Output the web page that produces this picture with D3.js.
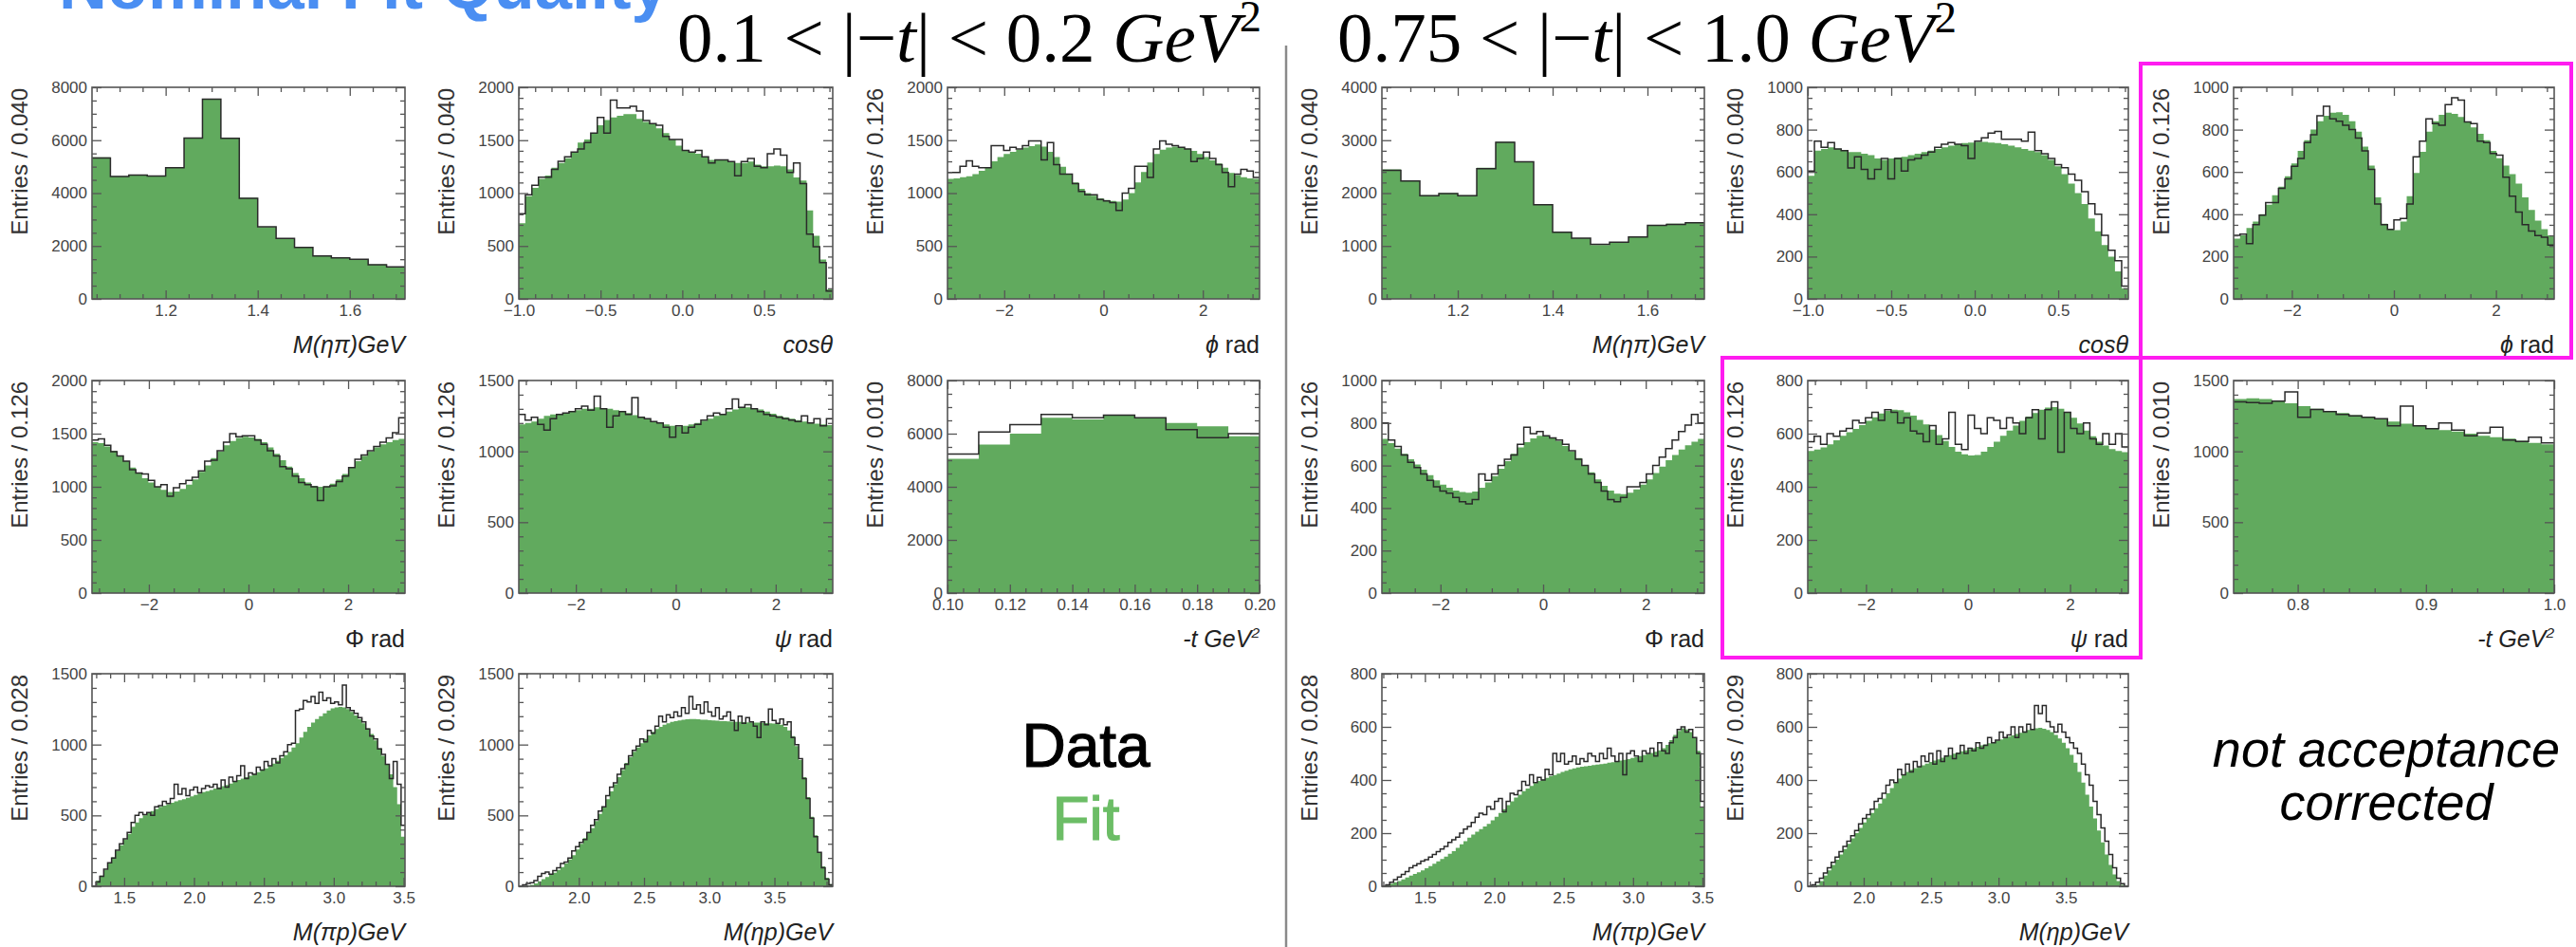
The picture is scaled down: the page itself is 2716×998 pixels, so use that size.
<!DOCTYPE html>
<html><head><meta charset="utf-8">
<script src="https://cdn.jsdelivr.net/npm/d3@7"></script>
<style>body{margin:0;background:#fff;}svg{display:block}</style>
</head><body>
<script>
// ================= DATA =================
// M(eta pi), 17 bins of 0.040 from 1.04
const mEtaPiLoFit  = [5350,4640,4670,4660,4980,6090,7540,6090,3820,2720,2300,1960,1610,1560,1490,1300,1220];
const mEtaPiLoData = [5330,4630,4680,4650,4960,6080,7550,6070,3800,2730,2290,1950,1620,1550,1500,1290,1210];
const mEtaPiHiFit  = [2450,2240,1960,2000,1960,2480,2970,2600,1790,1270,1150,1020,1075,1180,1400,1420,1445];
const mEtaPiHiData = [2430,2230,1950,1990,1950,2460,2960,2590,1780,1260,1150,1030,1070,1170,1390,1410,1440];
// cos theta, 48 bins of 0.040 from -1.0
const cosThLoFit  = [715,970,1050,1135,1165,1240,1285,1330,1390,1478,1507,1567,1642,1690,1716,1731,1746,1746,1701,1672,1657,1612,1567,1507,1448,1403,1388,1373,1343,1313,1313,1313,1298,1284,1284,1298,1269,1254,1254,1260,1254,1224,1149,1119,836,597,373,90];
const cosThLoData = [805,985,1075,1150,1150,1225,1300,1343,1388,1418,1478,1567,1716,1567,1880,1806,1806,1820,1776,1686,1657,1642,1537,1507,1507,1403,1388,1403,1343,1284,1313,1313,1298,1164,1298,1328,1254,1239,1373,1418,1358,1194,1284,1090,612,493,343,75];
const cosThHiFit  = [582,701,709,716,710,701,694,694,686,679,664,657,664,668,672,679,686,694,701,709,716,724,731,736,739,742,742,739,736,731,724,716,709,701,694,679,657,627,590,545,500,448,380,320,255,200,130,50];
const cosThHiData = [604,746,716,739,709,701,619,672,612,567,612,664,567,664,604,657,664,679,694,716,731,739,731,724,664,746,761,784,791,754,754,754,746,788,701,686,664,634,620,590,560,507,450,400,300,230,180,60];
// phi (rad), 50 bins of 2pi/50 from -pi
const phiLoFit  = [1134,1140,1150,1160,1180,1210,1240,1300,1340,1370,1390,1410,1430,1445,1460,1440,1390,1340,1250,1180,1100,1040,1000,975,950,935,925,920,940,1000,1100,1200,1290,1370,1410,1430,1440,1435,1420,1400,1370,1340,1310,1280,1240,1190,1170,1150,1140,1134];
const phiLoData = [1194,1194,1254,1304,1254,1239,1239,1448,1448,1403,1433,1418,1448,1493,1493,1313,1478,1269,1179,1179,1090,1015,985,985,940,925,910,836,1000,1045,1254,1254,1149,1418,1493,1463,1448,1433,1418,1298,1328,1388,1328,1269,1194,1060,1179,1224,1209,1149];
const phiHiFit  = [285,300,335,365,400,445,490,530,580,640,700,750,800,840,866,880,882,870,840,790,720,630,480,355,328,325,365,485,595,695,790,840,870,880,875,860,835,810,780,750,700,665,630,590,545,480,420,370,330,300];
const phiHiData = [300,306,261,351,396,455,455,522,567,627,664,739,776,866,910,851,840,821,800,760,700,612,448,351,328,373,380,448,672,746,851,828,821,918,951,940,836,828,746,739,687,679,575,485,410,351,321,299,291,254];
// Phi (rad), 50 bins
const bigPhiLoFit  = [1420,1410,1380,1340,1290,1240,1180,1130,1080,1040,1000,970,950,955,980,1020,1070,1140,1200,1270,1330,1390,1430,1460,1470,1465,1450,1420,1370,1310,1250,1190,1130,1080,1040,1010,1000,1005,1030,1070,1120,1180,1240,1290,1330,1370,1400,1420,1440,1450];
const bigPhiLoData = [1440,1450,1390,1330,1290,1240,1160,1130,1120,1060,1000,1020,910,990,1030,1060,1090,1150,1240,1250,1340,1420,1500,1470,1480,1480,1440,1400,1340,1290,1190,1170,1100,1040,1020,1000,870,1000,1010,1050,1100,1180,1260,1300,1340,1380,1420,1460,1510,1650];
const bigPhiHiFit  = [725,705,680,655,630,605,580,555,530,510,495,482,475,472,478,495,520,550,585,620,655,685,710,728,740,740,732,715,692,665,635,600,568,535,505,482,468,465,472,488,510,535,565,595,625,650,675,695,712,725];
const bigPhiHiData = [800,720,690,650,615,590,560,530,500,480,470,450,430,420,440,560,530,560,600,630,650,700,780,750,760,740,730,720,700,670,630,600,560,520,480,440,430,450,500,500,520,560,600,640,680,720,760,790,840,800];
// psi (rad), 50 bins
const psiLoFit  = [1190,1200,1210,1230,1250,1260,1265,1270,1280,1290,1300,1300,1310,1305,1300,1290,1280,1270,1255,1240,1225,1210,1200,1190,1180,1175,1180,1190,1200,1215,1230,1250,1265,1280,1295,1305,1310,1305,1295,1280,1265,1250,1240,1230,1220,1210,1200,1195,1190,1185];
const psiLoData = [1260,1220,1240,1190,1150,1230,1260,1270,1280,1300,1320,1290,1390,1300,1170,1250,1280,1260,1380,1240,1230,1210,1200,1170,1100,1180,1130,1170,1190,1220,1250,1270,1260,1300,1370,1310,1330,1300,1280,1260,1250,1240,1230,1220,1210,1250,1200,1230,1180,1230];
const psiHiFit  = [535,540,548,560,575,592,605,618,632,648,662,676,686,690,688,680,668,652,635,615,595,572,550,532,522,518,520,532,550,570,592,612,630,648,664,678,690,698,700,694,680,660,638,612,590,570,555,542,535,530];
const psiHiData = [570,590,560,600,590,610,620,650,640,660,680,650,690,680,640,660,610,600,570,630,560,580,680,560,540,670,620,600,660,650,620,660,640,600,660,690,580,690,720,530,680,620,600,640,580,560,600,560,600,550];
// -t, bins of 0.010
const tLoFit  = [5050,5590,6000,6600,6540,6690,6600,6400,6280,5900];
const tLoData = [5230,6060,6340,6720,6600,6700,6600,6150,5850,6000];
const tHiFit  = [1370,1375,1370,1360,1340,1320,1300,1285,1270,1255,1240,1225,1210,1195,1180,1165,1150,1140,1125,1110,1100,1090,1075,1060,1050];
const tHiData = [1350,1345,1340,1355,1420,1240,1295,1280,1260,1250,1240,1230,1180,1320,1180,1160,1200,1150,1110,1130,1170,1080,1070,1100,1060];
// M(pi p), bins of 0.028
const mPiPLoFit  = [5,40,75,115,160,205,250,290,330,370,420,450,480,500,515,530,545,560,570,580,590,600,608,615,625,635,645,655,665,672,680,690,698,706,715,725,738,750,760,770,780,792,805,818,832,848,865,885,905,925,950,980,1010,1050,1090,1125,1155,1180,1200,1220,1240,1255,1262,1265,1262,1250,1230,1205,1180,1150,1115,1075,1030,975,920,860,790,700,580,350];
const mPiPLoData = [0,30,70,120,165,200,255,300,335,380,450,500,520,505,520,500,560,570,600,585,620,720,650,690,640,680,700,660,690,710,700,720,690,750,700,770,740,780,850,760,800,790,840,820,880,850,900,870,920,950,1000,1010,1240,1250,1310,1300,1340,1290,1370,1310,1330,1290,1300,1280,1420,1260,1240,1220,1190,1160,1110,1060,1040,970,930,860,760,880,720,430];
const mPiPHiFit  = [0,5,10,15,20,26,33,40,46,53,60,68,76,85,94,103,112,122,132,145,158,170,183,195,205,215,225,235,248,262,276,290,305,320,334,345,358,368,378,388,396,402,408,414,419,424,430,435,440,444,447,450,452,454,456,458,460,462,465,467,470,473,476,479,483,486,490,494,498,502,506,512,520,532,550,570,585,595,590,580,560,510,300];
const mPiPHiData = [0,5,15,25,35,45,55,70,78,85,95,100,110,120,130,140,150,165,175,185,200,215,225,240,260,275,270,300,290,320,330,280,320,350,345,360,395,380,420,390,410,400,440,420,500,470,500,460,470,490,460,480,470,500,490,470,500,480,520,490,470,500,420,500,510,490,470,510,500,520,490,540,510,500,540,560,590,600,580,590,560,500,320];
// M(eta p), bins of 0.029
const mEtaPLoFit  = [0,0,5,10,20,35,50,65,80,95,115,135,160,190,220,260,300,340,375,410,460,510,560,615,670,720,770,820,870,910,950,980,1010,1040,1065,1090,1110,1125,1140,1150,1160,1165,1170,1175,1178,1180,1180,1178,1176,1175,1172,1170,1168,1165,1165,1163,1162,1160,1160,1158,1157,1156,1155,1155,1153,1152,1150,1148,1145,1140,1125,1100,1060,990,890,770,630,490,360,240,140,60,15];
const mEtaPLoData = [0,10,20,25,40,70,90,100,85,110,130,160,170,200,250,280,310,330,380,430,470,530,560,640,700,730,790,830,860,920,960,990,1040,1020,1100,1080,1130,1200,1160,1210,1190,1230,1200,1260,1220,1340,1250,1280,1220,1300,1230,1200,1260,1180,1200,1230,1170,1100,1200,1150,1190,1160,1130,1050,1160,1140,1250,1170,1150,1180,1140,1160,1050,1000,900,760,620,480,350,240,130,50,10];
const mEtaPHiFit  = [0,0,5,20,40,60,80,100,120,140,160,180,200,220,240,258,276,294,312,330,350,370,388,405,420,430,438,445,450,455,462,468,473,478,484,489,494,499,504,508,512,516,520,525,530,534,538,543,548,553,558,563,568,573,578,583,588,592,595,596,593,588,580,570,556,540,520,495,465,430,390,345,300,255,210,165,120,80,45,20,5,0];
const mEtaPHiData = [0,5,15,30,50,70,90,110,130,150,170,190,210,235,255,270,290,320,330,350,380,400,390,440,420,460,430,470,450,490,470,500,460,510,470,490,520,480,500,530,500,520,510,540,520,530,560,540,550,580,560,570,600,560,600,580,610,590,680,650,680,620,600,580,610,580,560,540,520,500,460,420,380,320,270,220,170,120,70,30,10,0];

// tick values
const ticksMEtaPi = [1.2,1.4,1.6];
const ticksCos    = [-1.0,-0.5,0.0,0.5];
const ticksAngle  = [-2,0,2];
const ticksTLo    = [0.10,0.12,0.14,0.16,0.18,0.20];
const ticksTHi    = [0.8,0.9,1.0];
const ticksMPiP   = [1.5,2.0,2.5,3.0,3.5];
const ticksMEtaP  = [2.0,2.5,3.0,3.5];

// ================= DRAW =================
const GREEN = "#61aa5e";
const SANS = "'Liberation Sans', Arial, Helvetica, sans-serif";
const SERIF = "'Liberation Serif', 'Times New Roman', serif";
const svg = d3.select("body").append("svg").attr("width",2716).attr("height",998)
  .style("font-family",SANS);
const defs = svg.append("defs");

const colX = [[97,427],[547,878],[999,1328],[1457,1797],[1906,2244],[2355,2693]];
const rowY = [[92,315],[401,625],[710,934]];
const PI = Math.PI, AB = 2*Math.PI/50;

const f1 = d3.format(".1f"), f2 = d3.format(".2f"), fd = d3.format("d");
const T_M_EP = [{t:"M(ηπ)GeV",i:1}], T_COS=[{t:"cosθ",i:1}], T_PHI=[{t:"ϕ",i:1},{t:" rad"}],
      T_BPHI=[{t:"Φ rad"}], T_PSI=[{t:"ψ",i:1},{t:" rad"}], T_T=[{t:"-t GeV",i:1},{t:"2",i:1,sup:1}],
      T_MPP=[{t:"M(πp)GeV",i:1}], T_MEP=[{t:"M(ηp)GeV",i:1}];

const panels = [
 {c:0,r:0,lo:1.04,bw:0.04,fit:mEtaPiLoFit,data:mEtaPiLoData,yMax:8000,yStep:2000,xt:ticksMEtaPi,fmt:f1,xs:0.2,yTitle:"Entries / 0.040",xTitle:T_M_EP},
 {c:1,r:0,lo:-1.0,bw:0.04,fit:cosThLoFit,data:cosThLoData,yMax:2000,yStep:500,xt:ticksCos,fmt:f1,xs:0.5,yTitle:"Entries / 0.040",xTitle:T_COS},
 {c:2,r:0,lo:-PI,bw:AB,fit:phiLoFit,data:phiLoData,yMax:2000,yStep:500,xt:ticksAngle,fmt:fd,xs:2,yTitle:"Entries / 0.126",xTitle:T_PHI},
 {c:3,r:0,lo:1.04,bw:0.04,fit:mEtaPiHiFit,data:mEtaPiHiData,yMax:4000,yStep:1000,xt:ticksMEtaPi,fmt:f1,xs:0.2,yTitle:"Entries / 0.040",xTitle:T_M_EP},
 {c:4,r:0,lo:-1.0,bw:0.04,fit:cosThHiFit,data:cosThHiData,yMax:1000,yStep:200,xt:ticksCos,fmt:f1,xs:0.5,yTitle:"Entries / 0.040",xTitle:T_COS},
 {c:5,r:0,lo:-PI,bw:AB,fit:phiHiFit,data:phiHiData,yMax:1000,yStep:200,xt:ticksAngle,fmt:fd,xs:2,yTitle:"Entries / 0.126",xTitle:T_PHI},
 {c:0,r:1,lo:-PI,bw:AB,fit:bigPhiLoFit,data:bigPhiLoData,yMax:2000,yStep:500,xt:ticksAngle,fmt:fd,xs:2,yTitle:"Entries / 0.126",xTitle:T_BPHI},
 {c:1,r:1,lo:-PI,bw:AB,fit:psiLoFit,data:psiLoData,yMax:1500,yStep:500,xt:ticksAngle,fmt:fd,xs:2,yTitle:"Entries / 0.126",xTitle:T_PSI},
 {c:2,r:1,lo:0.10,bw:0.01,fit:tLoFit,data:tLoData,yMax:8000,yStep:2000,xt:ticksTLo,fmt:f2,xs:0.02,yTitle:"Entries / 0.010",xTitle:T_T},
 {c:3,r:1,lo:-PI,bw:AB,fit:bigPhiHiFit,data:bigPhiHiData,yMax:1000,yStep:200,xt:ticksAngle,fmt:fd,xs:2,yTitle:"Entries / 0.126",xTitle:T_BPHI},
 {c:4,r:1,lo:-PI,bw:AB,fit:psiHiFit,data:psiHiData,yMax:800,yStep:200,xt:ticksAngle,fmt:fd,xs:2,yTitle:"Entries / 0.126",xTitle:T_PSI},
 {c:5,r:1,lo:0.75,bw:0.01,fit:tHiFit,data:tHiData,yMax:1500,yStep:500,xt:ticksTHi,fmt:f1,xs:0.1,yTitle:"Entries / 0.010",xTitle:T_T},
 {c:0,r:2,lo:1.27,bw:0.028,fit:mPiPLoFit,data:mPiPLoData,yMax:1500,yStep:500,xt:ticksMPiP,fmt:f1,xs:0.5,yTitle:"Entries / 0.028",xTitle:T_MPP},
 {c:1,r:2,lo:1.54,bw:0.029,fit:mEtaPLoFit,data:mEtaPLoData,yMax:1500,yStep:500,xt:ticksMEtaP,fmt:f1,xs:0.5,yTitle:"Entries / 0.029",xTitle:T_MEP},
 {c:3,r:2,lo:1.19,bw:0.028,fit:mPiPHiFit,data:mPiPHiData,yMax:800,yStep:200,xt:ticksMPiP,fmt:f1,xs:0.5,yTitle:"Entries / 0.028",xTitle:T_MPP},
 {c:4,r:2,lo:1.585,bw:0.029,fit:mEtaPHiFit,data:mEtaPHiData,yMax:800,yStep:200,xt:ticksMEtaP,fmt:f1,xs:0.5,yTitle:"Entries / 0.029",xTitle:T_MEP},
];

function minorStep(step){
  const lead = +(step/Math.pow(10,Math.floor(Math.log10(step)+1e-9))).toFixed(3);
  return lead===2 ? step/4 : step/5;
}
function rangeTicks(a,b,s){ const out=[]; const n=Math.round((b-a)/s); for(let k=0;k<=n+1;k++){const v=a+k*s; if(v>=Math.min(a,b)-1e-9 && v<=b+1e-9) out.push(+v.toFixed(6));} return out; }

function richText(parent, x, y, segs, size, family, anchor){
  const t = parent.append("text").attr("x",x).attr("y",y).attr("font-size",size)
    .attr("font-family",family).attr("text-anchor",anchor||"start").attr("fill","#111");
  let prevSup=false;
  segs.forEach(s=>{
    const ts = t.append("tspan").text(s.t);
    if(s.i) ts.attr("font-style","italic");
    if(s.sup){ ts.attr("font-size",size*0.62).attr("dy",-size*0.42); prevSup=true; }
    else if(prevSup){ ts.attr("dy",size*0.42); prevSup=false; }
  });
  return t;
}

function styleAxis(g, showLabels){
  g.select(".domain").remove();
  g.selectAll(".tick line").attr("stroke","#555").attr("stroke-width",1.3);
  g.attr("font-family",SANS).attr("font-size",17);
  g.selectAll(".tick text").attr("fill","#444");
  if(!showLabels) g.selectAll(".tick text").remove();
}

panels.forEach((p,idx)=>{
  const [x0,x1]=colX[p.c], [y0,y1]=rowY[p.r];
  const n = p.fit.length;
  const xEnd = p.lo + n*p.bw;
  const x = d3.scaleLinear().domain([p.lo,xEnd]).range([x0,x1]);
  const y = d3.scaleLinear().domain([0,p.yMax]).range([y1,y0]);
  const g = svg.append("g");
  defs.append("clipPath").attr("id","cp"+idx).append("rect")
    .attr("x",x0).attr("y",y0).attr("width",x1-x0).attr("height",y1-y0);
  const pts = v => { const a=v.map((d,i)=>[p.lo+i*p.bw,d]); a.push([xEnd,v[n-1]]); return a; };
  g.append("path").datum(pts(p.fit)).attr("clip-path",`url(#cp${idx})`)
    .attr("fill",GREEN)
    .attr("d",d3.area().x(d=>x(d[0])).y0(y(0)).y1(d=>y(d[1])).curve(d3.curveStepAfter));
  g.append("path").datum(pts(p.data)).attr("clip-path",`url(#cp${idx})`)
    .attr("fill","none").attr("stroke","#2a2a2a").attr("stroke-width",1.5)
    .attr("d",d3.line().x(d=>x(d[0])).y(d=>y(d[1])).curve(d3.curveStepAfter));

  const yMajor = rangeTicks(0,p.yMax,p.yStep);
  const yMinor = rangeTicks(0,p.yMax,minorStep(p.yStep)).filter(v=>!yMajor.some(m=>Math.abs(m-v)<1e-6));
  const xMinorStep = minorStep(p.xs);
  const xStart = Math.ceil((p.lo-1e-9)/xMinorStep)*xMinorStep;
  const xMinor = rangeTicks(xStart,xEnd,xMinorStep).filter(v=>!p.xt.some(m=>Math.abs(m-v)<1e-6));

  g.append("g").attr("transform",`translate(${x0},0)`)
    .call(d3.axisLeft(y).tickValues(yMajor).tickFormat(fd).tickSize(-10).tickPadding(5)).call(a=>styleAxis(a,true));
  g.append("g").attr("transform",`translate(${x0},0)`)
    .call(d3.axisLeft(y).tickValues(yMinor).tickSize(-5)).call(a=>styleAxis(a,false));
  g.append("g").attr("transform",`translate(${x1},0)`)
    .call(d3.axisRight(y).tickValues(yMajor).tickSize(-10)).call(a=>styleAxis(a,false));
  g.append("g").attr("transform",`translate(${x1},0)`)
    .call(d3.axisRight(y).tickValues(yMinor).tickSize(-5)).call(a=>styleAxis(a,false));
  g.append("g").attr("transform",`translate(0,${y1})`)
    .call(d3.axisBottom(x).tickValues(p.xt).tickFormat(p.fmt).tickSize(-9).tickPadding(6)).call(a=>styleAxis(a,true));
  g.append("g").attr("transform",`translate(0,${y1})`)
    .call(d3.axisBottom(x).tickValues(xMinor).tickSize(-5)).call(a=>styleAxis(a,false));
  g.append("g").attr("transform",`translate(0,${y0})`)
    .call(d3.axisTop(x).tickValues(p.xt).tickSize(-9)).call(a=>styleAxis(a,false));
  g.append("g").attr("transform",`translate(0,${y0})`)
    .call(d3.axisTop(x).tickValues(xMinor).tickSize(-5)).call(a=>styleAxis(a,false));

  g.append("rect").attr("x",x0).attr("y",y0).attr("width",x1-x0).attr("height",y1-y0)
    .attr("fill","none").attr("stroke","#555").attr("stroke-width",1.6);

  g.append("text").attr("transform",`translate(${x0-68},${y0+1}) rotate(-90)`)
    .attr("text-anchor","end").attr("font-size",24).attr("fill","#333").text(p.yTitle);
  richText(g, x1, y1+57, p.xTitle, 25, SANS, "end").attr("fill","#222");
});

// divider line
svg.append("line").attr("x1",1356).attr("x2",1356).attr("y1",48).attr("y2",998)
  .attr("stroke","#8a8a8a").attr("stroke-width",2.5);

// magenta boxes
svg.append("rect").attr("x",2257).attr("y",67).attr("width",2711-2257).attr("height",377-67)
  .attr("fill","none").attr("stroke","#ff1cf0").attr("stroke-width",4);
svg.append("rect").attr("x",1816).attr("y",377).attr("width",2257-1816).attr("height",693-377)
  .attr("fill","none").attr("stroke","#ff1cf0").attr("stroke-width",4);

// headings
function fitTitle(x, y, segs, targetW){
  let t = richText(svg, x, y, segs, 60, SERIF, "start");
  const w = t.node().getComputedTextLength();
  t.remove();
  return richText(svg, x, y, segs, 60*targetW/w, SERIF, "start").attr("fill","#000");
}
fitTitle(714, 65, [{t:"0.1 < |−"},{t:"t",i:1},{t:"| < 0.2 "},{t:"GeV",i:1},{t:"2",sup:1}], 616);
fitTitle(1410, 65, [{t:"0.75 < |−"},{t:"t",i:1},{t:"| < 1.0 "},{t:"GeV",i:1},{t:"2",sup:1}], 653);

// clipped slide title
const blue = svg.append("text").attr("x",62).attr("y",9).attr("font-size",58).attr("font-weight","bold")
  .attr("fill","#4a8ef2").attr("font-family",SANS).text("Nominal Fit Quality");
{
  const w = blue.node().getComputedTextLength();
  blue.attr("font-size",58*643/w);
}

// labels
svg.append("text").attr("x",1145).attr("y",808).attr("text-anchor","middle").attr("font-size",64)
  .attr("fill","#000").attr("stroke","#000").attr("stroke-width",1.2).text("Data");
svg.append("text").attr("x",1145).attr("y",885).attr("text-anchor","middle").attr("font-size",64)
  .attr("fill","#6cbd66").attr("stroke","#6cbd66").attr("stroke-width",1.2).text("Fit");
svg.append("text").attr("x",2516).attr("y",808).attr("text-anchor","middle").attr("font-size",54)
  .attr("font-style","italic").attr("fill","#000").text("not acceptance");
svg.append("text").attr("x",2516).attr("y",864).attr("text-anchor","middle").attr("font-size",54)
  .attr("font-style","italic").attr("fill","#000").text("corrected");
</script>
</body></html>
